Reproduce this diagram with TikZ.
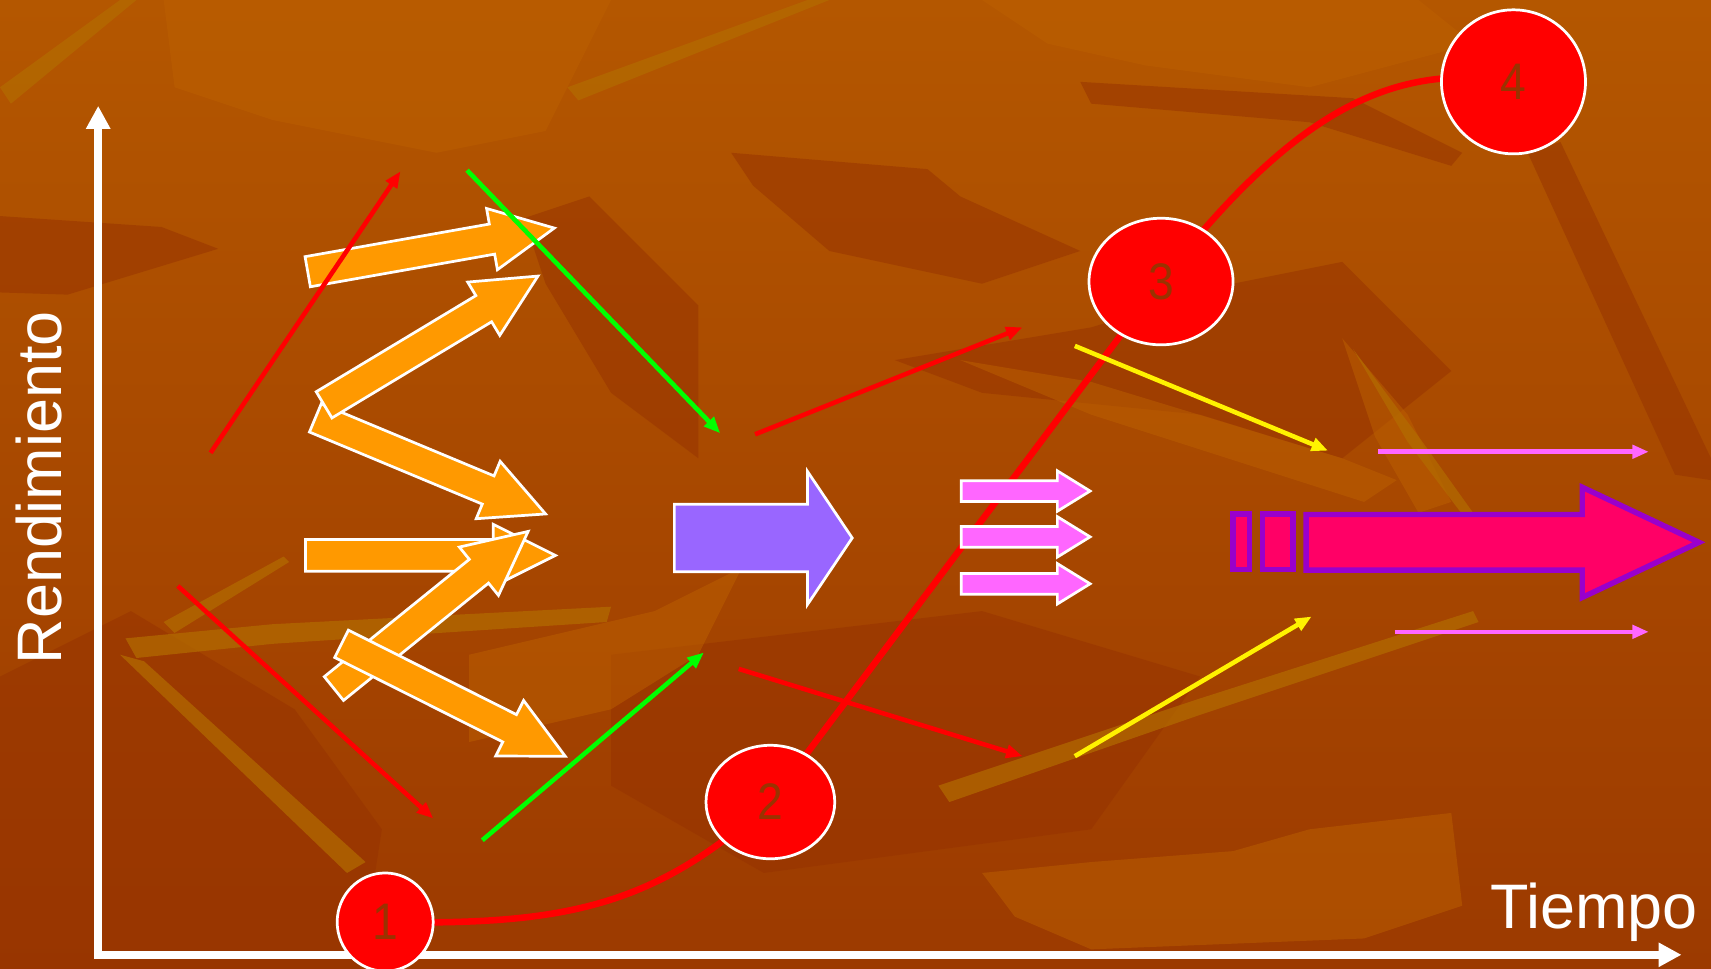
\documentclass[tikz,border=0pt]{standalone}
\usepackage{fontspec}
\setmainfont{Liberation Sans}
\usetikzlibrary{shapes.geometric,arrows.meta,calc}
\pgfdeclarelayer{bg}
\pgfdeclarelayer{curvelayer}
\pgfsetlayers{bg,curvelayer,main}
\definecolor{bgtop}{HTML}{B45700}
\definecolor{bgbot}{HTML}{9C3A00}
\definecolor{bgdark}{HTML}{963200}
\definecolor{bglight}{HTML}{BC6000}
\definecolor{bggold}{HTML}{B36C00}
\definecolor{numcol}{HTML}{993300}
\definecolor{orangeA}{HTML}{FF9900}
\definecolor{violetA}{HTML}{9966FF}
\definecolor{pinkA}{HTML}{FF66FF}
\definecolor{magA}{HTML}{FF0066}
\definecolor{purpA}{HTML}{9900CC}
\newcommand{\blockarrow}[8]{%
  \pgfmathsetmacro\baang{atan2(-((#5)-(#3)),(#4)-(#2))}%
  \pgfmathsetmacro\balen{veclen((#4)-(#2),(#5)-(#3))}%
  \pgfmathsetmacro\bab{\balen-(#8)}%
  \draw[#1,shift={(#2,#3)},rotate=\baang] (0,-#6/2) -- (\bab,-#6/2) -- (\bab,-#7/2) -- (\balen,0) -- (\bab,#7/2) -- (\bab,#6/2) -- (0,#6/2) -- cycle;}
\tikzset{
  axisline/.style={white,line width=0.7mm,line join=miter,{Triangle[length=2.1mm,width=2.1mm]}-{Triangle[length=2.1mm,width=2.1mm]}},
  thinarrow/.style={line width=0.42mm,-{Triangle[length=1.5mm,width=1.2mm]}},
  curveline/.style={red,line width=0.6mm},
  stage/.style={ellipse,draw=white,line width=0.25mm,fill=red,inner sep=0pt,text=numcol,
     font=\fontsize{13.4}{15}\selectfont},
  orangearrow/.style={fill=orangeA,draw=white,line width=0.25mm,line join=miter},
  violetarrow/.style={fill=violetA,draw=white,line width=0.25mm,line join=miter},
  pinkarrow/.style={fill=pinkA,draw=white,line width=0.25mm,line join=miter},
  magarrow/.style={fill=magA,draw=purpA,line width=0.5mm,line join=miter},
  axislabel/.style={white,font=\fontsize{16.4}{19}\selectfont,inner sep=0pt},
  dk/.style={fill=bgdark,opacity=0.5},
  lt/.style={fill=bglight,opacity=0.5},
  gd/.style={fill=bggold,opacity=0.7},
}
\begin{document}
\begin{tikzpicture}[x=0.1mm,y=-0.1mm]
\useasboundingbox (0,0) rectangle (1568,888);
% ---------- background ----------
\begin{pgfonlayer}{bg}
\shade[top color=bgtop,bottom color=bgbot] (0,0) rectangle (1568,888);
\begin{scope}
\clip (0,0) rectangle (1568,888);
\fill[lt] (150,0) -- (560,0) -- (500,120) -- (400,140) -- (250,110) -- (160,80) -- cycle;
\fill[lt] (900,0) -- (1300,0) -- (1350,40) -- (1200,80) -- (1050,60) -- (960,40) -- cycle;
\fill[dk] (0,198) -- (148,208) -- (200,228) -- (62,270) -- (0,268) -- cycle;
\fill[dk] (0,620) -- (120,560) -- (270,650) -- (350,760) -- (330,888) -- (0,888) -- cycle;
\fill[dk] (480,200) -- (540,180) -- (640,280) -- (640,420) -- (560,360) -- (500,260) -- cycle;
\fill[dk] (820,330) -- (1000,300) -- (1130,260) -- (1230,240) -- (1330,340) -- (1230,420) -- (1100,380) -- (900,360) -- cycle;
\fill[dk] (670,140) -- (850,155) -- (880,180) -- (990,230) -- (900,260) -- (760,230) -- (690,170) -- cycle;
\fill[dk] (1400,140) -- (1430,130) -- (1568,420) -- (1568,440) -- (1535,435) -- cycle;
\fill[dk] (990,75) -- (1240,90) -- (1340,140) -- (1330,152) -- (1200,112) -- (1000,95) -- cycle;
\fill[dk] (560,600) -- (900,560) -- (1100,620) -- (1000,760) -- (700,800) -- (560,720) -- cycle;
\fill[lt] (900,800) -- (1000,790) -- (1130,780) -- (1200,760) -- (1330,745) -- (1340,830) -- (1250,860) -- (1000,870) -- (930,840) -- cycle;
\fill[lt] (880,330) -- (1000,350) -- (1230,420) -- (1280,440) -- (1250,460) -- (1000,380) -- cycle;
\fill[lt] (430,600) -- (600,560) -- (680,520) -- (640,600) -- (560,650) -- (430,680) -- cycle;
\fill[lt] (1230,310) -- (1290,380) -- (1330,460) -- (1300,470) -- (1260,400) -- cycle;
\fill[gd] (115,585) -- (250,572) -- (560,556) -- (556,570) -- (250,590) -- (125,603) -- cycle;
\fill[gd] (110,600) -- (132,606) -- (335,790) -- (318,800) -- cycle;
\fill[gd] (150,570) -- (260,510) -- (265,515) -- (160,580) -- cycle;
\fill[gd] (860,720) -- (1100,640) -- (1350,560) -- (1355,570) -- (1100,655) -- (870,735) -- cycle;
\fill[gd] (1240,320) -- (1300,400) -- (1350,470) -- (1342,474) -- (1290,405) -- cycle;
\fill[gd] (0,80) -- (110,0) -- (125,0) -- (10,95) -- cycle;
\fill[gd] (520,80) -- (740,0) -- (760,0) -- (530,92) -- cycle;
\end{scope}
\end{pgfonlayer}
% ---------- axes ----------
\coordinate (ytop) at (90,97);
\coordinate (origin) at (90,875);
\coordinate (xend) at (1541,875);
\draw[axisline] (ytop) -- (origin) -- (xend);
\node[axislabel,rotate=90] (ylab) at (36,447) {Rendimiento};
\node[axislabel] (xlab) at (1461,836) {Tiempo};
% ---------- stages ----------
\node[stage,minimum width=8.8mm,minimum height=9mm] (c1) at (353,845) {\scalebox{0.9}[1]{1}};
\node[stage,minimum width=11.8mm,minimum height=10.4mm] (c2) at (706,735) {\scalebox{0.9}[1]{2}};
\node[stage,minimum width=13.2mm,minimum height=11.6mm] (c3) at (1064,258) {\scalebox{0.9}[1]{3}};
\node[stage,minimum width=13.2mm,minimum height=13.2mm] (c4) at (1387,75) {\scalebox{0.9}[1]{4}};
\begin{pgfonlayer}{curvelayer}
\draw[curveline] (c1.center) .. controls (520,848) and (600,830) .. (c2.center) -- (c3.center) .. controls (1180,110) and (1270,55) .. (c4.center);
\end{pgfonlayer}
% ---------- thin arrows ----------
\coordinate (a1s) at (193,415); \coordinate (a1e) at (367,157);
\coordinate (a2s) at (163,537); \coordinate (a2e) at (397,750);
\coordinate (a3s) at (692,398); \coordinate (a3e) at (937,300);
\coordinate (a4s) at (677,613); \coordinate (a4e) at (937,693);
\coordinate (g1s) at (428,156); \coordinate (g1e) at (660,397);
\coordinate (g2s) at (442,770); \coordinate (g2e) at (645,598);
\coordinate (y1s) at (985,317); \coordinate (y1e) at (1217,413);
\coordinate (y2s) at (985,693); \coordinate (y2e) at (1202,565);
\coordinate (p1s) at (1263,414); \coordinate (p1e) at (1511,414);
\coordinate (p2s) at (1278,579); \coordinate (p2e) at (1511,579);
% ---------- orange block arrows ----------
\blockarrow{orangearrow}{289}{383}{500}{471}{28}{57}{57}
\blockarrow{orangearrow}{297}{371}{493}{253}{28}{57}{58}
\blockarrow{orangearrow}{282}{249}{508}{209}{28}{57}{58}
\blockarrow{orangearrow}{280}{509}{509}{509}{29}{57}{57}
\blockarrow{orangearrow}{306}{631}{484}{487}{28}{57}{58}
\blockarrow{orangearrow}{313}{590}{518}{693}{28}{57}{57}
\draw[thinarrow,red] (a1s) -- (a1e);
\draw[thinarrow,red] (a2s) -- (a2e);
\draw[thinarrow,red] (a3s) -- (a3e);
\draw[thinarrow,red] (a4s) -- (a4e);
\draw[thinarrow,green] (g1s) -- (g1e);
\draw[thinarrow,green] (g2s) -- (g2e);
\draw[thinarrow,yellow] (y1s) -- (y1e);
\draw[thinarrow,yellow] (y2s) -- (y2e);
\draw[thinarrow,pinkA] (p1s) -- (p1e);
\draw[thinarrow,pinkA] (p2s) -- (p2e);
% ---------- violet arrow ----------
\blockarrow{violetarrow}{618}{493}{781}{493}{62}{122}{41}
% ---------- small pink arrows ----------
\blockarrow{pinkarrow}{881}{450}{999}{450}{19}{37}{30}
\blockarrow{pinkarrow}{881}{492}{999}{492}{19}{37}{30}
\blockarrow{pinkarrow}{881}{535}{999}{535}{19}{37}{30}
% ---------- big magenta arrow ----------
\draw[magarrow] (1130,471) rectangle (1145,522);
\draw[magarrow] (1157,471) rectangle (1185,522);
\blockarrow{magarrow}{1197}{497}{1557}{497}{51}{101}{107}
\end{tikzpicture}
\end{document}
